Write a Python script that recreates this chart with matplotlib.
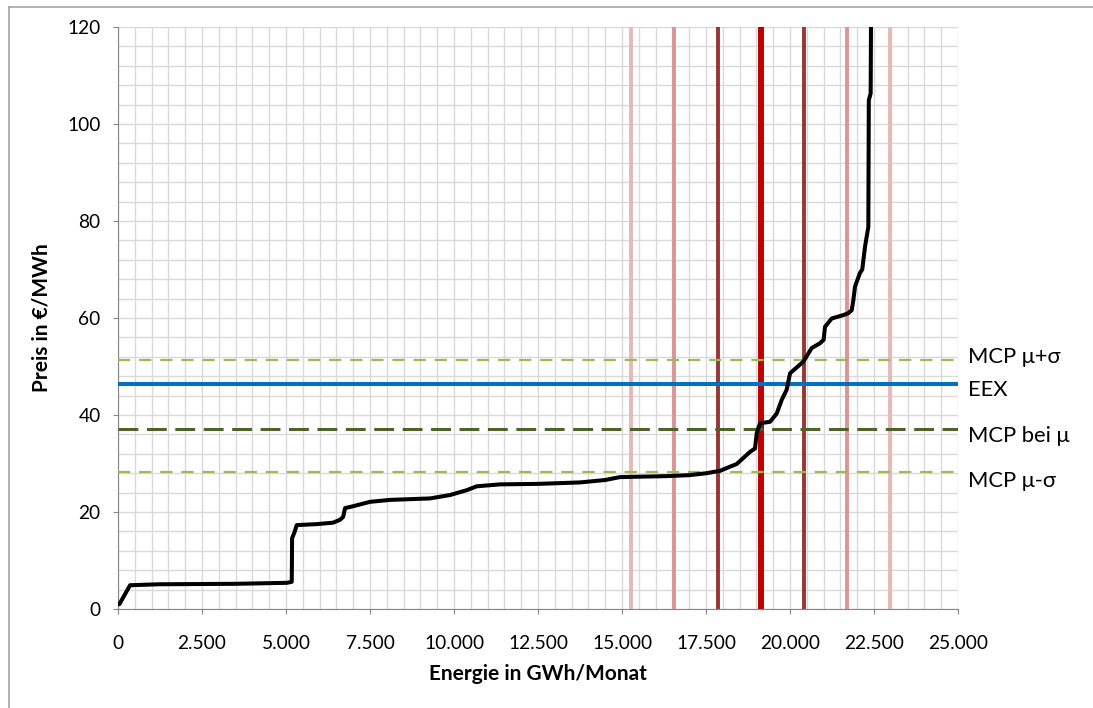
import numpy as np
import matplotlib.pyplot as plt
from matplotlib.ticker import MultipleLocator, FuncFormatter
from matplotlib.lines import Line2D

plt.rcParams['font.family'] = ['Lato', 'DejaVu Sans']

# Angebotskurve (Merit Order)
energie = [0, 40, 357, 1200, 3500, 5020, 5170, 5180, 5250, 5318, 5913, 6400, 6607, 6700,
           6756, 7000, 7500, 8095, 9285, 9880, 10378, 10675, 11369, 12500, 13750, 14500,
           14940, 16330, 17000, 17520, 17917, 18413, 18810, 18958, 19008, 19107, 19405,
           19603, 19752, 19900, 20000, 20397, 20645, 20893, 21000, 21042, 21091, 21240,
           21587, 21736, 21835, 21885, 21935, 22083, 22150, 22232, 22331, 22345, 22400, 22410, 22420]
preis = [1.0, 1.0, 4.9, 5.1, 5.2, 5.4, 5.6, 14.6, 15.8, 17.3, 17.5, 17.8, 18.4, 19.0,
         20.8, 21.2, 22.1, 22.5, 22.8, 23.5, 24.5, 25.3, 25.7, 25.8, 26.1, 26.6,
         27.2, 27.4, 27.6, 28.0, 28.5, 29.9, 32.4, 33.1, 36.2, 38.3, 38.6,
         40.3, 43.1, 45.2, 48.6, 51.0, 53.8, 54.8, 55.5, 58.2, 58.6, 59.9,
         60.6, 61.0, 61.6, 63.7, 66.5, 69.3, 70.0, 74.7, 78.8, 104.9, 106.3, 120, 125]

# Nachfrage: mu, mu +/- sigma, 2 sigma, 3 sigma
nachfrage = [15268, 16548, 17857, 19137, 20417, 21696, 22976]
nachfrage_farben = ['#E6B9B8', '#D99694', '#953735', '#C00000', '#953735', '#D99694', '#E6B9B8']
nachfrage_breite = [2.8, 2.8, 2.8, 4.3, 2.8, 2.8, 2.8]

# Preislinien
preis_labels = ['MCP μ+σ', 'EEX', 'MCP bei μ', 'MCP μ-σ']
preis_werte = [51.3, 46.4, 37.1, 28.2]

fig = plt.figure(figsize=(10.93, 7.08), dpi=100)
ax = fig.add_axes([0.108, 0.1398, 0.7685, 0.8221])

ax.set_xlim(0, 25000)
ax.set_ylim(0, 120)
ax.xaxis.set_major_locator(MultipleLocator(2500))
ax.xaxis.set_minor_locator(MultipleLocator(500))
ax.yaxis.set_major_locator(MultipleLocator(20))
ax.yaxis.set_minor_locator(MultipleLocator(4))
ax.xaxis.set_major_formatter(FuncFormatter(lambda v, p: f'{int(v):,}'.replace(',', '.')))
ax.grid(which='both', color='#D9D9D9', linewidth=1.0, zorder=0)
ax.set_axisbelow(True)
ax.tick_params(which='minor', length=0)
ax.tick_params(which='major', length=3.6, color='#868686', labelsize=13.8)
ax.tick_params(axis='x', pad=15)
ax.tick_params(axis='y', pad=9)
for s in ['top', 'right']:
    ax.spines[s].set_visible(False)
for s in ['left', 'bottom']:
    ax.spines[s].set_color('#868686')

for xv, c, lw in zip(nachfrage, nachfrage_farben, nachfrage_breite):
    ax.axvline(xv, color=c, linewidth=lw, zorder=2)

ax.axhline(preis_werte[0], color='#9BBB59', linewidth=1.6, dashes=(5.5, 4), zorder=3)
ax.axhline(preis_werte[1], color='#0070C0', linewidth=2.9, zorder=3)
ax.axhline(preis_werte[2], color='#4F6228', linewidth=2.2, dashes=(6.5, 2.8), zorder=3)
ax.axhline(preis_werte[3], color='#9BBB59', linewidth=1.6, dashes=(5.5, 4), zorder=3)

ax.plot(energie, preis, color='black', linewidth=2.9, solid_joinstyle='round', zorder=4)

offsets = [2, -4, -5, -6]
for lab, yv, off in zip(preis_labels, preis_werte, offsets):
    ax.annotate(lab, xy=(1.0, yv), xycoords=('axes fraction', 'data'),
                xytext=(7, off), textcoords='offset points',
                va='center', ha='left', fontsize=15.8, annotation_clip=False)

ax.set_xlabel('Energie in GWh/Monat', fontsize=15, fontweight='bold', labelpad=9)
ax.set_ylabel('Preis in €/MWh', fontsize=15, fontweight='bold', labelpad=11)

# Rahmen
fig.add_artist(Line2D([9 / 1093, 1], [1 - 7 / 708, 1 - 7 / 708], color='#A6A6A6', linewidth=1.2))
fig.add_artist(Line2D([9 / 1093, 9 / 1093], [0, 1 - 7 / 708], color='#A6A6A6', linewidth=1.2))

fig.savefig('out.png', dpi=100)
